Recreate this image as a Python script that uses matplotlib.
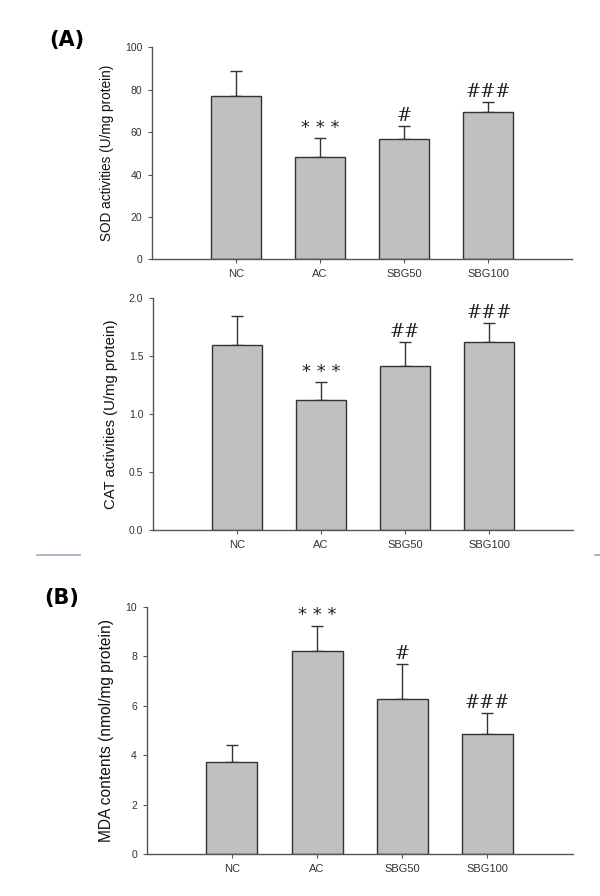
import matplotlib
matplotlib.use("Agg")
import matplotlib.pyplot as plt
import numpy as np

groups = ["NC", "AC", "SBG50", "SBG100"]

sod_mean = [77.0, 48.4, 56.9, 69.6]
sod_err = [11.7, 8.6, 6.1, 4.6]
sod_marks = ["", "***", "#", "###"]

cat_mean = [1.60, 1.12, 1.42, 1.62]
cat_err = [0.25, 0.16, 0.20, 0.17]
cat_marks = ["", "***", "##", "###"]

mda_mean = [3.73, 8.20, 6.26, 4.84]
mda_err = [0.69, 1.03, 1.41, 0.85]
mda_marks = ["", "***", "#", "###"]

plt.rcParams['font.family'] = ['Liberation Sans', 'DejaVu Sans']

fig = plt.figure(figsize=(6.0, 8.96), dpi=100)

def panel(rect, means, errs, marks, ylim, yticks, ylabel, fmt, mark_off, ylsize):
    ax = fig.add_axes(rect)
    x = np.arange(1, len(groups) + 1)
    ax.bar(x, means, width=0.6, color="#c0c0c0", edgecolor="#333333", linewidth=1.0, zorder=2)
    ax.errorbar(x, means, yerr=[np.zeros(len(errs)), errs], fmt="none",
                ecolor="#333333", elinewidth=1.0, capsize=4, capthick=1.0, zorder=1)
    for xi, m, e, s in zip(x, means, errs, marks):
        if not s:
            continue
        if s.startswith("*"):
            ax.text(xi, m + e + mark_off, " ".join(s), ha="center", va="bottom", fontsize=13,
                    color="#222222", family="DejaVu Sans")
        else:
            ax.text(xi, m + e + mark_off, s, ha="center", va="bottom", fontsize=13,
                    color="#222222", family="DejaVu Serif")
    ax.set_xlim(0, 5)
    ax.set_ylim(*ylim)
    ax.set_yticks(yticks)
    ax.set_yticklabels([fmt.format(t) for t in yticks])
    ax.set_xticks(x)
    ax.set_xticklabels(groups)
    for sp in ["top", "right"]:
        ax.spines[sp].set_visible(False)
    for sp in ["left", "bottom"]:
        ax.spines[sp].set_color("#555555")
        ax.spines[sp].set_linewidth(1.0)
    ax.tick_params(axis="both", direction="out", length=3, width=0.8, colors="#555555",
                   labelcolor="#333333", pad=4)
    ax.tick_params(axis="y", labelsize=7.5)
    ax.tick_params(axis="x", labelsize=8)
    ax.set_ylabel(ylabel, fontsize=ylsize, color="#111111", labelpad=8)
    return ax

panel([0.2533, 0.7106, 0.70, 0.2366], sod_mean, sod_err, sod_marks, (0, 100),
      [0, 20, 40, 60, 80, 100], "SOD activities (U/mg protein)", "{:.0f}", 0.5, 9.8)
panel([0.2550, 0.4081, 0.70, 0.2589], cat_mean, cat_err, cat_marks, (0, 2.0),
      [0.0, 0.5, 1.0, 1.5, 2.0], "CAT activities (U/mg protein)", "{:.1f}", 0.01, 10.7)
panel([0.2445, 0.0469, 0.71, 0.2760], mda_mean, mda_err, mda_marks, (0, 10),
      [0, 2, 4, 6, 8, 10], "MDA contents (nmol/mg protein)", "{:.0f}", 0.05, 11.2)

fig.text(0.111, 1 - 40 / 896, "(A)", fontsize=15, ha="center", va="center",
         family="DejaVu Sans", fontweight="semibold")
fig.text(0.103, 1 - 598 / 896, "(B)", fontsize=15, ha="center", va="center",
         family="DejaVu Sans", fontweight="semibold")

fig.add_artist(plt.Line2D([37 / 600, 80 / 600], [1 - 555 / 896, 1 - 555 / 896],
                          color="#9aaac4", linewidth=1.2))
fig.add_artist(plt.Line2D([595 / 600, 600 / 600], [1 - 555 / 896, 1 - 555 / 896],
                          color="#9aaac4", linewidth=1.2))

fig.savefig("out.png", dpi=100)
